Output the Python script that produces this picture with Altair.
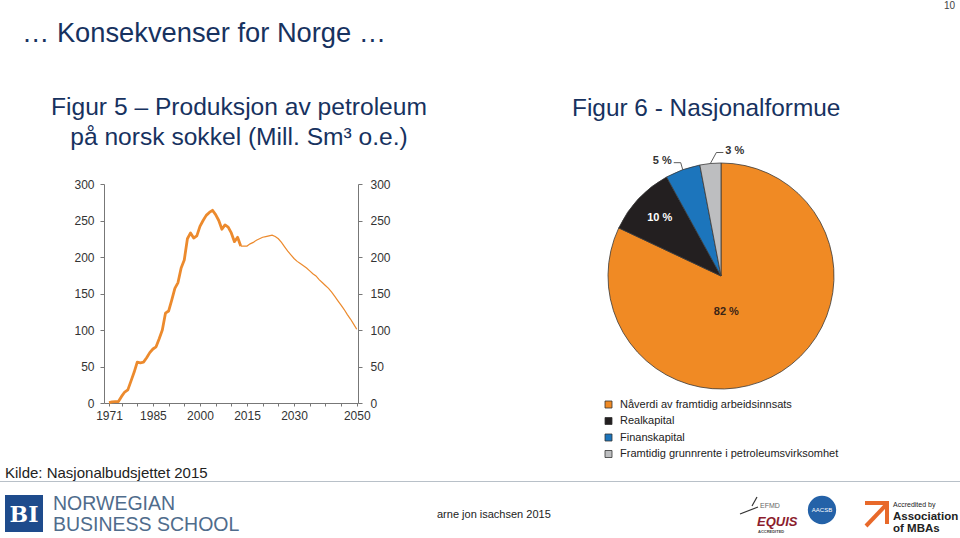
import altair as alt
import pandas as pd
import numpy as np

FONT = "Liberation Sans"
NAVY = "#17325F"
LINE_ORANGE = "#EC8A2D"

# ---------------- Figure 5: petroleum production (mill. Sm3 o.e.) ----------------
hist_years = list(range(1971, 2014))
hist_values = [0.5, 1.5, 2, 2, 9, 15, 18, 30, 42, 56,
               55, 56, 62, 69, 74, 77, 88, 100, 123, 126,
               141, 157, 165, 185, 196, 225, 233, 226, 229, 242,
               250, 257, 261, 264, 258, 250, 238, 244, 241, 233,
               221, 227, 215]
proj_years = list(range(2013, 2051))
proj_values = [215, 215, 215, 218, 220, 223, 225, 227, 228, 229,
               230, 228, 225, 220, 214, 208, 203, 198, 194, 191,
               188, 185, 181, 177, 174, 169, 165, 161, 157, 152,
               146, 140, 134, 128, 121, 115, 108, 101]
tick_years = [1971] + list(range(1975, 2051, 5))
label_years = [1971, 1985, 2000, 2015, 2030, 2050]
y_ticks = [0, 50, 100, 150, 200, 250, 300]

# ---------------- Figure 6: national wealth ----------------
wealth_cats = ["Nåverdi av framtidig arbeidsinnsats", "Realkapital",
               "Finanskapital", "Framtidig grunnrente i petroleumsvirksomhet"]
wealth_shares = [82, 10, 5, 3]
wealth_labels = ["82 %", "10 %", "5 %", "3 %"]
wealth_colors = ["#F08A24", "#231F20", "#1C75BC", "#BDBEC0"]

# ---------------- layout constants ----------------
X_RANGE = [104, 358]
Y_RANGE = [403, 184]
X_DOMAIN = [1969.4, 2050.4]
CX, CY, R = 721, 276, 113

df_hist = pd.DataFrame({"year": hist_years, "value": hist_values})
df_proj = pd.DataFrame({"year": proj_years, "value": proj_values})

xs = alt.Scale(domain=X_DOMAIN, range=X_RANGE, nice=False, zero=False)
ys = alt.Scale(domain=[0, 300], range=Y_RANGE, nice=False, zero=False)

axis_common = dict(domainColor="#777", tickColor="#777", labelColor="#333",
                   labelFont=FONT, labelFontSize=12, title=None, grid=False,
                   labelFlush=False, labelOverlap=False)

lbl_expr = "indexof(" + str(label_years) + ", datum.value) >= 0 ? datum.label : ''"

hist = alt.Chart(df_hist).mark_line(color=LINE_ORANGE, strokeWidth=2.8, strokeJoin="round").encode(
    x=alt.X("year:Q", scale=xs,
            axis=alt.Axis(orient="bottom", offset=-135, values=tick_years, format="d",
                          labelExpr=lbl_expr, tickSize=3, labelPadding=4, **axis_common)),
    y=alt.Y("value:Q", scale=ys,
            axis=alt.Axis(orient="left", offset=-104, values=y_ticks, tickSize=4,
                          labelPadding=6, **axis_common)),
)

proj = alt.Chart(df_proj).mark_line(color=LINE_ORANGE, strokeWidth=1.2).encode(
    x=alt.X("year:Q", scale=xs, axis=None),
    y=alt.Y("value:Q", scale=ys,
            axis=alt.Axis(orient="right", offset=-602, values=y_ticks, tickSize=4,
                          labelPadding=8, **axis_common)),
)

# ---------------- pie ----------------
df_pie = pd.DataFrame({
    "category": wealth_cats,
    "share": wealth_shares,
    "idx": list(range(len(wealth_cats))),
    "lab_in": ["", wealth_labels[1], "", ""],
    "lab_big": [wealth_labels[0], "", "", ""],
})

pie_base = alt.Chart(df_pie).encode(
    theta=alt.Theta("share:Q", stack=True),
    order=alt.Order("idx:Q"),
    x=alt.value(CX), y=alt.value(CY),
)

pie = pie_base.mark_arc(outerRadius=R, stroke="#3a3a3a", strokeWidth=0.8).encode(
    color=alt.Color("category:N",
                    scale=alt.Scale(domain=wealth_cats, range=wealth_colors),
                    sort=wealth_cats,
                    legend=alt.Legend(orient="none", legendX=603, legendY=399, title=None,
                                      direction="vertical", symbolType="square", symbolSize=49,
                                      symbolStrokeColor="#333", symbolStrokeWidth=0.8,
                                      labelFont=FONT, labelFontSize=11, labelColor="#222",
                                      rowPadding=4.5, labelOffset=6, labelLimit=400, padding=0)),
)

lab_in = pie_base.mark_text(radius=84, font=FONT, fontSize=11, fontWeight="bold",
                            color="white", baseline="middle").encode(text="lab_in:N")
lab_big = pie_base.mark_text(radius=36, dx=-14, dy=6, font=FONT, fontSize=11, fontWeight="bold",
                             color="#3a2416", baseline="middle").encode(text="lab_big:N")

# leader lines for the two small slices, computed from the slice angles
total = float(sum(wealth_shares))
cum = np.cumsum([0] + wealth_shares)
mids = [(cum[i] + wealth_shares[i] / 2) / total * 2 * np.pi for i in range(len(wealth_shares))]
leader_style = {2: ((-2, -7), -7, "right"), 3: ((6, -11), 7, "left")}
rows, lrows = [], []
for i, ((ex, ey), tail, al) in leader_style.items():
    ax_ = CX + R * np.sin(mids[i])
    ay_ = CY - R * np.cos(mids[i])
    bx, by = ax_ + ex, ay_ + ey
    tx = bx + tail
    rows += [{"seg": i, "k": 0, "px": ax_, "py": ay_},
             {"seg": i, "k": 1, "px": bx, "py": by},
             {"seg": i, "k": 2, "px": tx, "py": by}]
    lrows.append({"px": tx + (-2 if al == "right" else 2), "py": by - 2, "t": wealth_labels[i], "al": al})
df_lead = pd.DataFrame(rows)
df_lead_lab = pd.DataFrame(lrows)

pxs = alt.Scale(domain=[0, 960], range=[0, 960], nice=False, zero=False)
pys = alt.Scale(domain=[0, 538], range=[0, 538], nice=False, zero=False)

leaders = alt.Chart(df_lead).mark_line(color="#333", strokeWidth=0.8).encode(
    x=alt.X("px:Q", scale=pxs, axis=None),
    y=alt.Y("py:Q", scale=pys, axis=None),
    detail="seg:N", order="k:Q",
)
lead_lab_r = alt.Chart(df_lead_lab[df_lead_lab.al == "right"]).mark_text(
    align="right", baseline="middle", font=FONT, fontSize=11, fontWeight="bold", color="#333").encode(
    x=alt.X("px:Q", scale=pxs, axis=None), y=alt.Y("py:Q", scale=pys, axis=None), text="t:N")
lead_lab_l = alt.Chart(df_lead_lab[df_lead_lab.al == "left"]).mark_text(
    align="left", baseline="middle", font=FONT, fontSize=11, fontWeight="bold", color="#333").encode(
    x=alt.X("px:Q", scale=pxs, axis=None), y=alt.Y("py:Q", scale=pys, axis=None), text="t:N")

# ---------------- slide texts and decorations ----------------
ONE = alt.Data(values=[{}])


def txt(s, x, y, size, color, weight="normal", align="left", font=FONT, style="normal", baseline="alphabetic"):
    return alt.Chart(ONE).mark_text(text=s, fontSize=size, color=color, fontWeight=weight, align=align,
                                    font=font, fontStyle=style, baseline=baseline).encode(
        x=alt.value(x), y=alt.value(y))


def seg(x1, y1, x2, y2, color, w):
    return alt.Chart(ONE).mark_rule(color=color, strokeWidth=w, strokeCap="butt").encode(
        x=alt.value(x1), y=alt.value(y1), x2=alt.value(x2), y2=alt.value(y2))


texts = [
    txt("… Konsekvenser for Norge …", 22, 42, 27.3, NAVY),
    txt("Figur 5 – Produksjon av petroleum", 239, 115, 24.6, NAVY, align="center"),
    txt("på norsk sokkel (Mill. Sm³ o.e.)", 239, 145, 24.6, NAVY, align="center"),
    txt("Figur 6 - Nasjonalformue", 572, 116, 24.4, NAVY),
    txt("10", 955, 9, 10, "#444", align="right"),
    txt("Kilde: Nasjonalbudsjettet 2015", 5, 478, 15, "#222"),
    txt("arne jon isachsen 2015", 437, 518, 11, "#222"),
    txt("NORWEGIAN", 53, 510, 19.5, "#4F6C8C"),
    txt("BUSINESS SCHOOL", 53, 531, 19.5, "#4F6C8C"),
]

bi_box = alt.Chart(ONE).mark_rect(color="#1E4B8C").encode(
    x=alt.value(5), x2=alt.value(43), y=alt.value(495), y2=alt.value(532))
bi_txt = txt("BI", 24, 522, 22, "white", weight="bold", align="center", font="DejaVu Serif")

sep = seg(0, 481.5, 960, 481.5, "#B8C0C8", 1)

# EQUIS
equis = [
    seg(740, 514, 758, 507, "#333", 1.2),
    seg(752, 506, 757, 497, "#333", 1.2),
    txt("EFMD", 760, 508, 7, "#666"),
    txt("EQUIS", 757, 526, 13, "#8C1D2E", weight="bold", style="italic"),
    txt("ACCREDITED", 758, 533, 4, "#444", weight="bold"),
]
# AACSB
aacsb = [
    alt.Chart(ONE).mark_circle(color="#2462A8", opacity=1, size=800).encode(
        x=alt.value(822), y=alt.value(510)),
    txt("AACSB", 822, 512, 6, "white", align="center"),
]
# AMBA
amba = [
    seg(866, 526, 886, 505, "#E8692A", 4),
    seg(865, 503, 889, 503, "#E8692A", 4),
    seg(887, 502, 887, 524, "#E8692A", 4),
    txt("Accredited by", 893, 507, 7, "#222"),
    txt("Association", 893, 520, 11.5, "#222", weight="bold"),
    txt("of MBAs", 893, 532, 11.5, "#222", weight="bold"),
]

layers = [hist, proj, pie, lab_in, lab_big, leaders, lead_lab_r, lead_lab_l, sep, bi_box, bi_txt] \
    + texts + equis + aacsb + amba

chart = alt.layer(*layers).resolve_scale(x="independent", y="independent").properties(
    width=960, height=538, padding=0, background="white",
    autosize=alt.AutoSizeParams(type="none"),
).configure_view(stroke=None).configure_axis(grid=False)

chart.save("out.html", embed_options={"renderer": "svg", "actions": False})
